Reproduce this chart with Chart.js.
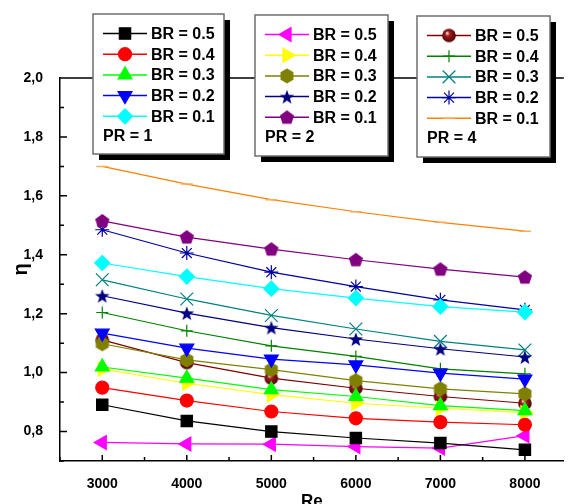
<!DOCTYPE html>
<html>
<head>
<meta charset="utf-8">
<script src="https://cdn.jsdelivr.net/npm/chart.js@4/dist/chart.umd.min.js"></script>
<style>
  body { margin: 0; background: #fff; }
  canvas { display: block; }
</style>
</head>
<body>
<canvas id="grafico" width="574" height="504"></canvas>
<script>
// --- DADOS ---
const re = [3000, 4000, 5000, 6000, 7000, 8000];

// PR = 1
const pr1Br05 = [0.891, 0.836, 0.800, 0.778, 0.761, 0.738];
const pr1Br04 = [0.949, 0.905, 0.868, 0.845, 0.832, 0.823];
const pr1Br03 = [1.019, 0.981, 0.942, 0.919, 0.888, 0.871];
const pr1Br02 = [1.134, 1.083, 1.046, 1.026, 0.998, 0.978];
const pr1Br01 = [1.372, 1.326, 1.285, 1.253, 1.224, 1.205];
// PR = 2
const pr2Br05 = [0.763, 0.758, 0.757, 0.749, 0.744, 0.786];
const pr2Br04 = [1.012, 0.964, 0.925, 0.896, 0.879, 0.864];
const pr2Br03 = [1.098, 1.043, 1.010, 0.973, 0.945, 0.928];
const pr2Br02 = [1.261, 1.202, 1.153, 1.114, 1.081, 1.053];
const pr2Br01 = [1.515, 1.460, 1.419, 1.383, 1.351, 1.324];
// PR = 4
const pr4Br05 = [1.111, 1.034, 0.981, 0.947, 0.919, 0.896];
const pr4Br04 = [1.204, 1.142, 1.091, 1.055, 1.013, 0.996];
const pr4Br03 = [1.315, 1.250, 1.194, 1.148, 1.106, 1.077];
const pr4Br02 = [1.485, 1.406, 1.341, 1.292, 1.247, 1.213];
const pr4Br01 = [1.700, 1.640, 1.587, 1.546, 1.510, 1.480];

const brLabels = ['BR = 0.5', 'BR = 0.4', 'BR = 0.3', 'BR = 0.2', 'BR = 0.1'];
const prLabels = ['PR = 1', 'PR = 2', 'PR = 4'];

// ticks
const xMajor = [3000, 4000, 5000, 6000, 7000, 8000];
const xMinor = [2500, 3500, 4500, 5500, 6500, 7500];
const yMajor = [0.8, 1.0, 1.2, 1.4, 1.6, 1.8, 2.0];
const yMinor = [0.7, 0.9, 1.1, 1.3, 1.5, 1.7, 1.9];

// --- MARCADORES CUSTOMIZADOS ---
function criarMarcador(draw) {
    const c = document.createElement('canvas');
    c.width = 16; c.height = 16;
    draw(c.getContext('2d'), 8, 8);
    return c;
}

function poligono(g, cx, cy, r, n, cor) {
    g.beginPath();
    for (let i = 0; i < n; i++) {
        const a = -Math.PI / 2 + i * 2 * Math.PI / n;
        g.lineTo(cx + r * Math.cos(a), cy + r * Math.sin(a));
    }
    g.closePath();
    g.fillStyle = cor;
    g.fill();
}

const pentagono = criarMarcador((g, cx, cy) => poligono(g, cx, cy + 0.5, 7.5, 5, '#800080'));
const hexagono = criarMarcador((g, cx, cy) => poligono(g, cx, cy, 7.5, 6, '#808000'));
const estrela = criarMarcador((g, cx, cy) => {
    g.beginPath();
    for (let i = 0; i < 10; i++) {
        const a = -Math.PI / 2 + i * Math.PI / 5;
        const r = i % 2 ? 3.1 : 7.6;
        g.lineTo(cx + r * Math.cos(a), cy + 0.8 + r * Math.sin(a));
    }
    g.closePath();
    g.fillStyle = '#000080';
    g.fill();
});
const esfera = criarMarcador((g, cx, cy) => {
    const grad = g.createRadialGradient(cx - 2, cy - 2.5, 0.5, cx, cy, 7);
    grad.addColorStop(0, '#f2d4d4');
    grad.addColorStop(0.3, '#a51c1c');
    grad.addColorStop(1, '#4a0000');
    g.beginPath();
    g.arc(cx, cy, 6.8, 0, Math.PI * 2);
    g.fillStyle = grad;
    g.fill();
});

function serie(label, valores, cor, estilo, extra = {}) {
    return {
        label,
        data: re.map((x, i) => ({ x, y: valores[i] })),
        borderColor: cor,
        backgroundColor: cor,
        borderWidth: 1.2,
        pointStyle: estilo,
        pointRadius: 7,
        pointBackgroundColor: cor,
        pointBorderColor: cor,
        pointBorderWidth: 1.2,
        pointRotation: 0,
        tension: 0,
        ...extra
    };
}

const datasets = [
    serie(brLabels[0], pr1Br05, '#000000', 'rect', { pointRadius: 8 }),
    serie(brLabels[1], pr1Br04, '#ff0000', 'circle', { pointRadius: 6.5 }),
    serie(brLabels[2], pr1Br03, '#00ff00', 'triangle', { pointRadius: 8 }),
    serie(brLabels[3], pr1Br02, '#0000ff', 'triangle', { pointRadius: 8, pointRotation: 180 }),
    serie(brLabels[4], pr1Br01, '#00ffff', 'rectRot', { pointRadius: 7.5 }),

    serie(brLabels[0], pr2Br05, '#ff00ff', 'triangle', { pointRadius: 8, pointRotation: 270 }),
    serie(brLabels[1], pr2Br04, '#ffff00', 'triangle', { pointRadius: 8, pointRotation: 90 }),
    serie(brLabels[2], pr2Br03, '#808000', hexagono),
    serie(brLabels[3], pr2Br02, '#000080', estrela),
    serie(brLabels[4], pr2Br01, '#800080', pentagono),

    serie(brLabels[0], pr4Br05, '#800000', esfera),
    serie(brLabels[1], pr4Br04, '#008000', 'cross', { pointRadius: 6 }),
    serie(brLabels[2], pr4Br03, '#008080', 'crossRot', { pointRadius: 9 }),
    serie(brLabels[3], pr4Br02, '#0000a0', 'star', { pointRadius: 7 }),
    serie(brLabels[4], pr4Br01, '#ff8000', 'line', { pointRadius: 6, pointBorderColor: '#ffaa55', pointBorderWidth: 1.5 })
];

// --- PLUGIN: ticks internos, borda superior e legendas ---
const molduraPlugin = {
    id: 'moldura',
    afterDraw(chart) {
        const { ctx, chartArea, scales } = chart;
        const sx = scales.x, sy = scales.y;
        ctx.save();
        ctx.strokeStyle = '#000';
        ctx.lineWidth = 1.5;
        ctx.beginPath();
        yMajor.forEach(v => { const p = sy.getPixelForValue(v); ctx.moveTo(chartArea.left, p); ctx.lineTo(chartArea.left + 7, p); });
        yMinor.forEach(v => { const p = sy.getPixelForValue(v); ctx.moveTo(chartArea.left, p); ctx.lineTo(chartArea.left + 4, p); });
        xMajor.forEach(v => { const p = sx.getPixelForValue(v); ctx.moveTo(p, chartArea.bottom); ctx.lineTo(p, chartArea.bottom - 6); });
        xMinor.forEach(v => { const p = sx.getPixelForValue(v); ctx.moveTo(p, chartArea.bottom); ctx.lineTo(p, chartArea.bottom - 4); });
        // borda superior
        ctx.moveTo(chartArea.left, chartArea.top);
        ctx.lineTo(chartArea.right, chartArea.top);
        ctx.stroke();

        // legendas (uma caixa por PR)
        const caixas = [
            { x: 93, y: 14, w: 131, h: 140 },
            { x: 255, y: 15, w: 133, h: 141 },
            { x: 417, y: 16, w: 133, h: 141 }
        ];
        caixas.forEach((cx, k) => {
            ctx.fillStyle = '#000';
            ctx.fillRect(cx.x + 6, cx.y + 6, cx.w, cx.h);
            ctx.fillStyle = '#fff';
            ctx.fillRect(cx.x, cx.y, cx.w, cx.h);
            ctx.strokeStyle = '#6e6e6e';
            ctx.lineWidth = 1.5;
            ctx.strokeRect(cx.x, cx.y, cx.w, cx.h);

            ctx.font = 'bold 16px "Liberation Sans", Arial, sans-serif';
            ctx.textBaseline = 'middle';
            for (let i = 0; i < 5; i++) {
                const ds = chart.data.datasets[k * 5 + i];
                const yy = cx.y + 19.5 + i * 20.7;
                const x1 = cx.x + 10, x2 = cx.x + 54;
                ctx.strokeStyle = ds.borderColor;
                ctx.lineWidth = 1.5;
                ctx.beginPath();
                ctx.moveTo(x1, yy);
                ctx.lineTo(x2, yy);
                ctx.stroke();
                ctx.fillStyle = ds.pointBackgroundColor;
                ctx.strokeStyle = ds.pointBorderColor;
                ctx.lineWidth = ds.pointBorderWidth;
                Chart.helpers.drawPoint(ctx, {
                    pointStyle: ds.pointStyle,
                    rotation: ds.pointRotation,
                    radius: ds.pointRadius,
                    borderWidth: ds.pointBorderWidth
                }, (x1 + x2) / 2, yy);
                ctx.fillStyle = '#000';
                ctx.fillText(ds.label, cx.x + 58, yy + 1);
            }
            ctx.fillStyle = '#000';
            ctx.fillText(prLabels[k], cx.x + 10, cx.y + 123);
        });
        ctx.restore();
    }
};

const fonteTick = { family: '"Liberation Sans", Arial, sans-serif', size: 14, weight: 'bold' };

new Chart(document.getElementById('grafico'), {
    type: 'line',
    data: { datasets },
    options: {
        responsive: false,
        animation: false,
        layout: { padding: { top: 78, right: 0, left: 0, bottom: 0 } },
        plugins: {
            legend: { display: false },
            tooltip: { enabled: false }
        },
        scales: {
            x: {
                type: 'linear',
                min: 2500,
                max: 8460,
                afterBuildTicks: s => { s.ticks = xMajor.map(v => ({ value: v })); },
                afterFit: s => { s.height = 43; },
                ticks: { color: '#000', font: fonteTick, padding: 7, maxRotation: 0, callback: v => String(v) },
                grid: { display: false },
                border: { display: true, color: '#000', width: 1.5 },
                title: {
                    display: true,
                    text: 'Re',
                    color: '#000',
                    font: { family: '"Liberation Sans", Arial, sans-serif', size: 17, weight: 'bold' },
                    padding: { top: 0, bottom: -8 }
                }
            },
            y: {
                min: 0.7,
                max: 2.0,
                afterBuildTicks: s => { s.ticks = yMajor.map(v => ({ value: v })); },
                afterFit: s => { s.width = 60; },
                ticks: {
                    color: '#000',
                    font: fonteTick,
                    padding: 9,
                    callback: v => v.toFixed(1).replace('.', ',')
                },
                grid: { display: false },
                border: { display: true, color: '#000', width: 1.5 },
                title: {
                    display: true,
                    text: 'η',
                    color: '#000',
                    font: { family: '"Liberation Sans", Arial, sans-serif', size: 20, weight: 'bold' },
                    padding: { top: 9, bottom: 0 }
                }
            }
        }
    },
    plugins: [molduraPlugin]
});
</script>
</body>
</html>
